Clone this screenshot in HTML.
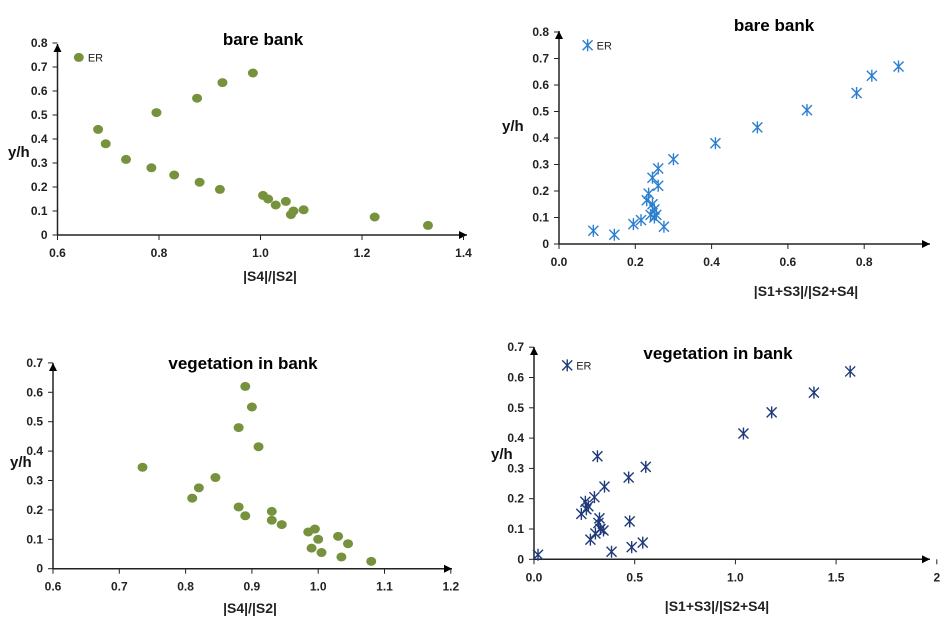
<!DOCTYPE html>
<html><head><meta charset="utf-8"><style>
body{margin:0;background:#fff;width:941px;height:633px;overflow:hidden;font-family:"Liberation Sans",sans-serif}
svg{position:absolute;left:0;top:0}
</style></head><body>
<svg id="s" width="941" height="633"></svg>
<script>
// Chart 1: bare bank, |S4|/|S2|
const c1x=[0.68,0.695,0.735,0.785,0.795,0.83,0.875,0.88,0.92,0.925,0.985,1.005,1.015,1.03,1.05,1.06,1.065,1.085,1.225,1.33];
const c1y=[0.44,0.38,0.315,0.28,0.51,0.25,0.57,0.22,0.19,0.635,0.675,0.165,0.15,0.125,0.14,0.085,0.1,0.105,0.075,0.04];
const c1xt=["0.6","0.8","1.0","1.2","1.4"];
const c1yt=["0","0.1","0.2","0.3","0.4","0.5","0.6","0.7","0.8"];
// Chart 2: bare bank, |S1+S3|/|S2+S4|
const c2x=[0.09,0.145,0.195,0.215,0.23,0.235,0.24,0.245,0.245,0.25,0.25,0.255,0.26,0.26,0.275,0.3,0.41,0.52,0.65,0.78,0.82,0.89];
const c2y=[0.05,0.035,0.075,0.09,0.165,0.19,0.11,0.15,0.25,0.13,0.1,0.11,0.285,0.22,0.065,0.32,0.38,0.44,0.505,0.57,0.635,0.67];
const c2xt=["0.0","0.2","0.4","0.6","0.8"];
const c2yt=["0","0.1","0.2","0.3","0.4","0.5","0.6","0.7","0.8"];
// Chart 3: vegetation in bank, |S4|/|S2|
const c3x=[0.735,0.81,0.82,0.845,0.88,0.88,0.89,0.89,0.9,0.91,0.93,0.93,0.945,0.985,0.99,0.995,1.0,1.005,1.03,1.035,1.045,1.08];
const c3y=[0.345,0.24,0.275,0.31,0.48,0.21,0.18,0.62,0.55,0.415,0.195,0.165,0.15,0.125,0.07,0.135,0.1,0.055,0.11,0.04,0.085,0.025];
const c3xt=["0.6","0.7","0.8","0.9","1.0","1.1","1.2"];
const c3yt=["0","0.1","0.2","0.3","0.4","0.5","0.6","0.7"];
// Chart 4: vegetation in bank, |S1+S3|/|S2+S4|
const c4x=[0.02,0.235,0.255,0.26,0.27,0.28,0.3,0.305,0.315,0.32,0.325,0.33,0.345,0.35,0.385,0.47,0.475,0.485,0.54,0.555,1.04,1.18,1.39,1.57];
const c4y=[0.015,0.15,0.19,0.165,0.175,0.065,0.205,0.085,0.34,0.12,0.135,0.1,0.095,0.24,0.025,0.27,0.125,0.04,0.055,0.305,0.415,0.485,0.55,0.62];
const c4xt=["0.0","0.5","1.0","1.5","2"];
const c4yt=["0","0.1","0.2","0.3","0.4","0.5","0.6","0.7"];

const NS="http://www.w3.org/2000/svg",S=document.getElementById('s');
function mk(t,a,p){const e=document.createElementNS(NS,t);for(const k in a)e.setAttribute(k,a[k]);(p||S).appendChild(e);return e;}
function chart(o){
  const g=mk('g',{});
  
  
  const X=v=>o.ox+(v-o.x0)*o.sx, Y=v=>o.oy-v*o.sy;
  const ya=mk('line',{x1:o.ox,y1:o.oy,x2:o.ox,y2:o.ytop,stroke:'#222','stroke-width':1.5},g);
  
  mk('path',{d:`M${o.ox-4},${o.ytop+8}L${o.ox},${o.ytop}L${o.ox+4},${o.ytop+8}Z`,fill:'#000'},g);
  const xa=mk('line',{x1:o.ox,y1:o.oy,x2:o.xend,y2:o.oy,stroke:'#222','stroke-width':1.5},g);
  
  mk('path',{d:`M${o.xend-8},${o.oy-4}L${o.xend},${o.oy}L${o.xend-8},${o.oy+4}Z`,fill:'#000'},g);
  o.yt.forEach(t=>{const y=Y(+t);
    mk('line',{x1:o.ox-5,y1:y,x2:o.ox,y2:y,stroke:'#222'},g);
    const tx=mk('text',{x:o.ox-10,y:y+4,'text-anchor':'end','font-size':12,'font-weight':'bold',fill:'#222'},g);tx.textContent=t;
    });
  o.xt.forEach(t=>{const x=X(+t);
    mk('line',{x1:x,y1:o.oy,x2:x,y2:o.oy+5,stroke:'#222'},g);
    const tx=mk('text',{x:x,y:o.oy+22,'text-anchor':'middle','font-size':12,'font-weight':'bold',fill:'#222'},g);tx.textContent=t;
    });
  const ti=mk('text',{x:o.tx,y:o.ty,'text-anchor':'middle','font-size':17,'font-weight':'bold',fill:'#000'},g);ti.textContent=o.title;
  
  const yl=mk('text',{x:o.ylx,y:o.yly,'font-size':15,'font-weight':'bold',fill:'#111'},g);yl.textContent='y/h';
  
  const xl=mk('text',{x:o.xlx,y:o.xly,'text-anchor':'middle','font-size':14,'font-weight':'bold',fill:'#222'},g);xl.textContent=o.xlabel;
  
  const mark=(x,y)=>{
    if(o.star){return mk('path',{d:`M${x-5},${y-5}L${x+5},${y+5}M${x-5},${y+5}L${x+5},${y-5}M${x},${y-6}L${x},${y+6}`,stroke:o.color,'stroke-width':1.4,fill:'none'},g);}
    return mk('ellipse',{cx:x,cy:y,rx:5,ry:4.5,fill:o.color},g);};
  o.xs.forEach((v,i)=>{const m=mark(X(v),Y(o.ys[i]));
    });
  if(o.er){const m=mark(X(o.er[0]),Y(o.er[1]));
    
    const t=mk('text',{x:X(o.er[0])+9,y:Y(o.er[1])+4,'font-size':11,fill:'#222'},g);t.textContent='ER';
    }
}
chart({name:'chart-bare-bank-s4-s2',xs:c1x,ys:c1y,xt:c1xt,yt:c1yt,x0:0.6,ox:57.5,oy:235,sx:507.5,sy:240,ytop:44,xend:467,color:'#76923c',title:'bare bank',tx:263,ty:45,ylx:8,yly:157,xlabel:'|S4|/|S2|',xlx:270,xly:281,er:[0.642,0.74]});
chart({name:'chart-bare-bank-s13-s24',xs:c2x,ys:c2y,xt:c2xt,yt:c2yt,x0:0,ox:559,oy:244,sx:381.5,sy:265,ytop:31,xend:930,color:'#2b7fd0',star:true,title:'bare bank',tx:774,ty:31,ylx:502,yly:131,xlabel:'|S1+S3|/|S2+S4|',xlx:806,xly:296,er:[0.075,0.75]});
chart({name:'chart-vegetation-s4-s2',xs:c3x,ys:c3y,xt:c3xt,yt:c3yt,x0:0.6,ox:53,oy:568.7,sx:663,sy:294,ytop:363,xend:452,color:'#76923c',title:'vegetation in bank',tx:243,ty:369,ylx:10,yly:467,xlabel:'|S4|/|S2|',xlx:250,xly:613});
chart({name:'chart-vegetation-s13-s24',xs:c4x,ys:c4y,xt:c4xt,yt:c4yt,x0:0,ox:534,oy:559.3,sx:201.4,sy:303,ytop:347,xend:930,color:'#1f3a7a',star:true,title:'vegetation in bank',tx:718,ty:359,ylx:491,yly:459,xlabel:'|S1+S3|/|S2+S4|',xlx:717,xly:611,er:[0.165,0.64]});
</script>
</body></html>
